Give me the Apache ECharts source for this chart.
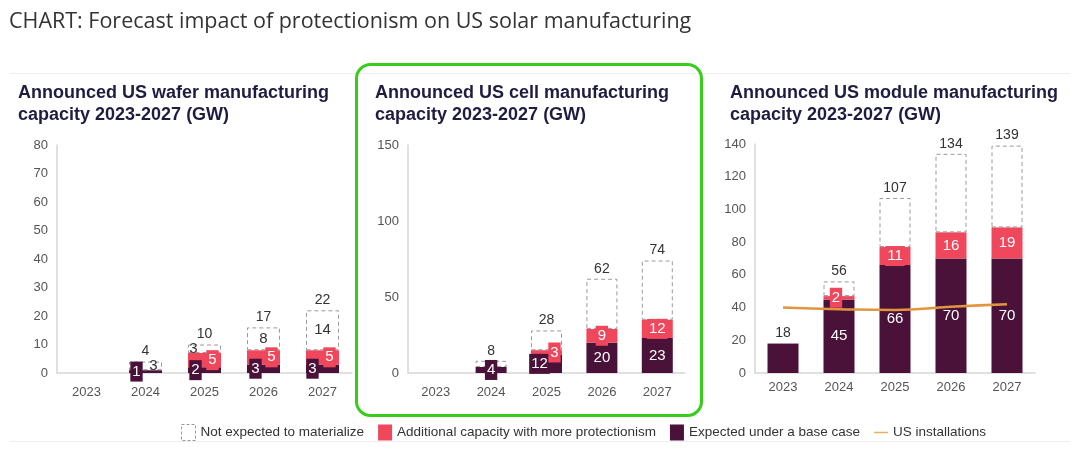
<!DOCTYPE html>
<html><head><meta charset="utf-8">
<script src="https://cdn.jsdelivr.net/npm/echarts@6/dist/echarts.min.js"></script>
<style>html,body{margin:0;padding:0;background:#fff}#c{width:1080px;height:452px}</style>
</head><body><div id="c"></div>
<script>
// ---- data ----
const years = ['2023', '2024', '2025', '2026', '2027'];

const waferBase  = [0, 1, 2, 3, 3];
const waferAdd   = [0, 0, 5, 5, 5];
const waferNot   = [0, 3, 3, 8, 14];
const waferTotal = [null, 4, 10, 17, 22];

const cellBase  = [0, 4, 12, 20, 23];
const cellAdd   = [0, 0, 3, 9, 12];
const cellNot   = [0, 4, 13, 33, 39];
const cellTotal = [null, 8, 28, 62, 74];

const moduleBase  = [18, 45, 66, 70, 70];
const moduleAdd   = [0, 2, 11, 16, 19];
const moduleNot   = [0, 9, 30, 48, 50];
const moduleTotal = [18, 56, 107, 134, 139];

const usInstallations = [40, 39, 38.5, 40.5, 42];

const waferAxis  = {max: 80, interval: 10};
const cellAxis   = {max: 150, interval: 50};
const moduleAxis = {max: 140, interval: 20};

// ---- styles ----
const DARK = '#4a1139', RED = '#f0475c', DASH = '#9a9a9a', LINE = '#e0963f';
const NAMES = {
  not: 'Not expected to materialize',
  add: 'Additional capacity with more protectionism',
  base: 'Expected under a base case',
  line: 'US installations'
};
const baseFont = "'Liberation Sans', Arial, sans-serif";

function nz(v) { return v === 0 || v == null ? '-' : v; }

function boxLabel(bg, offsetX) {
  return {
    show: true, position: 'inside', color: '#fff', fontSize: 15, fontFamily: baseFont,
    backgroundColor: bg, padding: [2, 2], lineHeight: 16, offset: [offsetX || 0, 0]
  };
}

// label offsets (style only), per category
const cfg = [
  {base: waferBase, add: waferAdd, not: waferNot, total: waferTotal, axis: waferAxis, barWidth: 33,
   baseOff: [0, -9, -9, -8, -10], addOff: [0, 8, 8, 8, 7], notOff: [0, 8, -11, 0, 0], showNot: true, xMargin: 13},
  {base: cellBase, add: cellAdd, not: cellNot, total: cellTotal, axis: cellAxis, barWidth: 31,
   baseOff: [0, 0, -7, 0, 0], addOff: [0, 0, 8, 0, 0], notOff: [0, 0, 0, 0, 0], showNot: false, xMargin: 13},
  {base: moduleBase, add: moduleAdd, not: moduleNot, total: moduleTotal, axis: moduleAxis, barWidth: 31,
   baseOff: [0, 0, 0, 0, 0], addOff: [0, -3, 0, 0, 0], notOff: [0, 0, 0, 0, 0], showNot: false, xMargin: 8}
];

const grids = [
  {left: 57, width: 295, top: 145, height: 228},
  {left: 408, width: 277, top: 145, height: 228},
  {left: 755, width: 280, top: 144, height: 229}
];

const xAxes = [], yAxes = [], series = [];
cfg.forEach((c, g) => {
  xAxes.push({
    type: 'category', gridIndex: g, data: years,
    axisLine: {lineStyle: {color: '#d6d6d6', width: 1.5}}, axisTick: {show: false},
    axisLabel: {color: '#555', fontSize: 13, fontFamily: baseFont, margin: c.xMargin}
  });
  yAxes.push({
    type: 'value', gridIndex: g, min: 0, max: c.axis.max, interval: c.axis.interval,
    axisLine: {show: true, lineStyle: {color: '#d6d6d6', width: 1.5}}, axisTick: {show: false},
    splitLine: {show: false},
    axisLabel: {color: '#555', fontSize: 13, fontFamily: baseFont, margin: 9}
  });
  const stack = 's' + g;
  const onlyBase = (i) => !(c.add[i] > 0) && !(c.not[i] > 0);
  series.push({
    name: NAMES.base, type: 'bar', stack, xAxisIndex: g, yAxisIndex: g, barWidth: c.barWidth,
    itemStyle: {color: DARK},
    data: c.base.map((v, i) => ({
      value: nz(v),
      label: Object.assign(boxLabel(DARK, c.baseOff[i]), {show: !onlyBase(i)})
    }))
  });
  series.push({
    name: NAMES.add, type: 'bar', stack, xAxisIndex: g, yAxisIndex: g, barWidth: c.barWidth,
    itemStyle: {color: RED},
    data: c.add.map((v, i) => ({value: nz(v), label: boxLabel(RED, c.addOff[i])}))
  });
  series.push({
    name: NAMES.not, type: 'bar', stack, xAxisIndex: g, yAxisIndex: g, barWidth: c.barWidth,
    itemStyle: {color: '#fff', borderColor: DASH, borderWidth: 1, borderType: [4, 3]},
    data: c.not.map((v, i) => ({
      value: nz(v),
      label: {show: c.showNot, position: 'inside', color: '#333', fontSize: 15, fontFamily: baseFont,
              offset: [c.notOff[i], 0]}
    }))
  });
  series.push({
    name: 'total', type: 'bar', stack, xAxisIndex: g, yAxisIndex: g, barWidth: c.barWidth,
    itemStyle: {color: 'transparent'}, silent: true,
    data: c.total.map(v => v == null ? '-' : 0),
    label: {show: true, position: 'top', distance: 3, color: '#333', fontSize: 14, fontFamily: baseFont,
            formatter: p => c.total[p.dataIndex] == null ? '' : String(c.total[p.dataIndex])}
  });
});
series.push({
  name: NAMES.line, type: 'line', xAxisIndex: 2, yAxisIndex: 2, smooth: true, symbol: 'none',
  data: usInstallations, lineStyle: {color: LINE, width: 2.5}, itemStyle: {color: LINE}, z: 5
});

const subStyle = {fontSize: 18, fontWeight: 'bold', color: '#1f1c42', fontFamily: baseFont, lineHeight: 22};
const option = {
  animation: false,
  backgroundColor: '#fff',
  title: [
    {text: 'CHART: Forecast impact of protectionism on US solar manufacturing', left: 4, top: 6,
     textStyle: {fontSize: 21.5, fontWeight: 'normal', color: '#333', fontFamily: "'Open Sans', Roboto, sans-serif"}},
    {text: 'Announced US wafer manufacturing\ncapacity 2023-2027 (GW)', left: 13, top: 77, textStyle: subStyle},
    {text: 'Announced US cell manufacturing\ncapacity 2023-2027 (GW)', left: 370, top: 77, textStyle: subStyle},
    {text: 'Announced US module manufacturing\ncapacity 2023-2027 (GW)', left: 725, top: 77, textStyle: subStyle}
  ],
  legend: {
    left: 176, top: 419, itemWidth: 14, itemHeight: 16, itemGap: 14, selectedMode: false,
    textStyle: {fontFamily: baseFont, fontSize: 13.5, color: '#333'},
    data: [
      {name: NAMES.not, icon: 'rect', itemStyle: {color: '#fff', borderColor: DASH, borderWidth: 1, borderType: [3, 2]}},
      {name: NAMES.add, icon: 'rect'},
      {name: NAMES.base, icon: 'rect'},
      {name: NAMES.line, icon: 'path://M0,0 L18,0 L18,2 L0,2 Z', itemStyle: {color: '#e8b06a'}}
    ]
  },
  grid: grids,
  xAxis: xAxes,
  yAxis: yAxes,
  series,
  graphic: [
    {type: 'line', shape: {x1: 10, y1: 73.5, x2: 1070, y2: 73.5}, style: {stroke: '#eeeeee', lineWidth: 1}, silent: true},
    {type: 'line', shape: {x1: 10, y1: 441.5, x2: 1070, y2: 441.5}, style: {stroke: '#eeeeee', lineWidth: 1}, silent: true},
    {type: 'rect', shape: {x: 356.5, y: 64.5, width: 345, height: 351, r: 14},
     style: {fill: 'none', stroke: '#38cc1c', lineWidth: 3}, silent: true, z: 100}
  ]
};
echarts.init(document.getElementById('c')).setOption(option);
</script>
</body></html>
